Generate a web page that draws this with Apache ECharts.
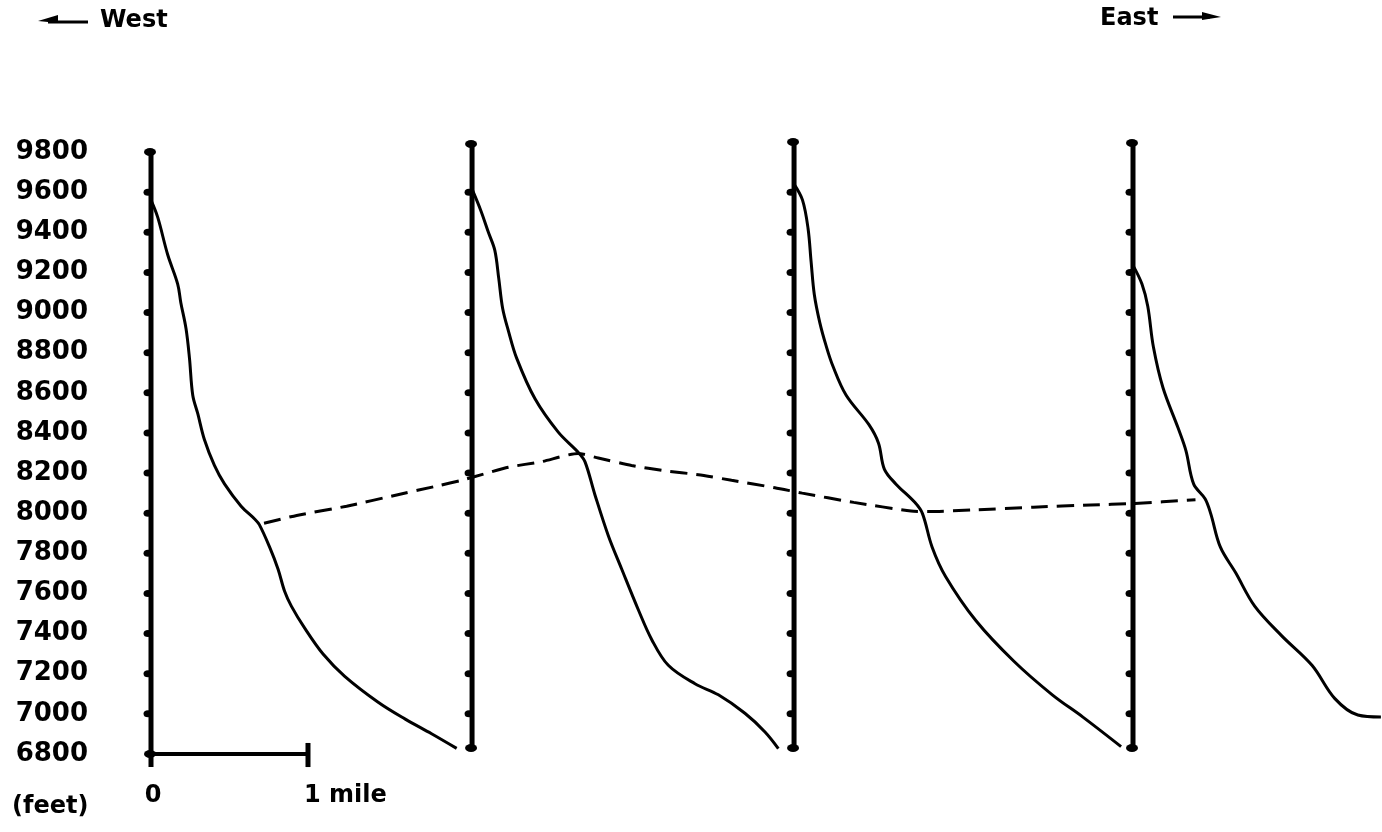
<!DOCTYPE html>
<html>
<head>
<meta charset="utf-8">
<script src="https://cdn.jsdelivr.net/npm/echarts@6/dist/echarts.min.js"></script>
<style>
html,body{margin:0;padding:0;background:#fff;}
#chart{width:1382px;height:832px;}
</style>
</head>
<body>
<div id="chart"></div>
<script>
// ---- data (miles east from the first profile, elevation in feet) ----
const yTicks = [6800, 7000, 7200, 7400, 7600, 7800, 8000, 8200, 8400, 8600, 8800, 9000, 9200, 9400, 9600, 9800];
const axisPositions = [0, 2.045, 4.096, 6.255];
const axisTops = [9800, 9840, 9850, 9845];
const axisBottoms = [6735, 6830, 6830, 6830];

const profile1 = [[0,9560],[0.043,9474],[0.106,9289],[0.17,9142],[0.19,9049],[0.223,8920],[0.245,8773],[0.266,8588],[0.298,8496],[0.34,8367],[0.404,8238],[0.468,8146],[0.574,8035],[0.66,7971],[0.69,7943],[0.755,7832],[0.809,7722],[0.851,7611],[0.894,7537],[0.979,7427],[1.096,7298],[1.234,7187],[1.447,7058],[1.617,6975],[1.787,6901],[1.947,6828]];
const profile2 = [[2.045,9615],[2.1,9510],[2.149,9400],[2.19,9310],[2.215,9170],[2.24,9020],[2.276,8910],[2.329,8773],[2.446,8570],[2.594,8404],[2.722,8303],[2.764,8257],[2.828,8091],[2.913,7888],[2.998,7722],[3.104,7519],[3.189,7371],[3.295,7242],[3.465,7150],[3.614,7095],[3.783,7003],[3.911,6910],[3.996,6827]];
const profile3 = [[4.096,9640],[4.15,9560],[4.185,9420],[4.205,9250],[4.225,9090],[4.26,8950],[4.3,8835],[4.342,8736],[4.427,8589],[4.573,8441],[4.634,8349],[4.671,8220],[4.744,8146],[4.865,8054],[4.914,7998],[4.975,7832],[5.061,7685],[5.255,7464],[5.498,7261],[5.741,7095],[5.936,6984],[6.179,6837]];
const profile4 = [[6.255,9235],[6.312,9142],[6.349,9031],[6.385,8828],[6.446,8625],[6.543,8423],[6.592,8312],[6.641,8146],[6.714,8072],[6.75,7998],[6.811,7832],[6.909,7703],[7.03,7537],[7.201,7390],[7.395,7242],[7.541,7076],[7.687,6994],[7.834,6984]];
const dashedTrend = [[0.72,7950],[0.928,7989],[1.246,8035],[1.565,8091],[1.83,8137],[1.979,8164],[2.106,8192],[2.276,8229],[2.488,8257],[2.72,8298],[2.849,8275],[3.061,8238],[3.274,8211],[3.486,8192],[3.698,8164],[3.974,8127],[4.148,8100],[4.476,8054],[4.841,8011],[4.963,8008],[5.255,8017],[5.62,8030],[5.985,8041],[6.25,8048],[6.653,8067]];
const scaleBar = [[0, 6800], [1, 6800]];
const scaleEnd = [[1, 6735], [1, 6855]];
const scaleLabels = ['0', '1 mile'];
const directionLabels = ['West', 'East'];
const unitLabel = '(feet)';

// ---- build ----
const FONT = 'DejaVu Sans';
const ink = '#000';
const series = [];

axisPositions.forEach((x, i) => {
  series.push({
    type: 'line', data: [[x, axisBottoms[i]], [x, axisTops[i]]],
    symbol: 'none', lineStyle: {color: ink, width: 5}, clip: false, silent: true, z: 3
  });
});

const tickPts = [];
axisPositions.forEach((x, i) => {
  yTicks.forEach(v => { if (v > 6800 && v < axisTops[i] - 60) tickPts.push([x, v]); });
});
series.push({
  type: 'scatter', data: tickPts, symbol: 'circle', symbolSize: [9, 7], symbolOffset: [-3, 0],
  itemStyle: {color: ink, opacity: 1}, clip: false, silent: true, z: 4
});
const endPts = [];
axisPositions.forEach((x, i) => { endPts.push([x, axisTops[i]]); endPts.push([x, i > 0 ? axisBottoms[i] : 6800]); });
series.push({
  type: 'scatter', data: endPts, symbol: 'circle', symbolSize: [12, 8], symbolOffset: [-1, 0],
  itemStyle: {color: ink, opacity: 1}, clip: false, silent: true, z: 4
});

[profile1, profile2, profile3, profile4].forEach(p => {
  series.push({
    type: 'line', data: p, symbol: 'none', smooth: 0.35,
    lineStyle: {color: ink, width: 3}, clip: false, silent: true, z: 2
  });
});

series.push({
  type: 'line', data: dashedTrend, symbol: 'none', smooth: 0.2,
  lineStyle: {color: ink, width: 3, type: [17, 9]}, clip: false, silent: true, z: 2
});

series.push({
  type: 'line', data: scaleBar, symbol: 'none',
  lineStyle: {color: ink, width: 4}, clip: false, silent: true, z: 3
});
series.push({
  type: 'line', data: scaleEnd, symbol: 'none',
  lineStyle: {color: ink, width: 5}, clip: false, silent: true, z: 3
});
series.push({
  type: 'scatter', data: scaleBar.map((d, i) => ({value: d, name: scaleLabels[i],
    label: {align: i === 0 ? 'center' : 'left', offset: i === 0 ? [2, 0] : [-4, 0], color: ink}})),
  symbolSize: 0, clip: false, silent: true,
  itemStyle: {opacity: 1},
  label: {show: true, position: 'bottom', distance: 30, formatter: '{b}',
    fontFamily: FONT, fontWeight: 'bold', fontSize: 24, color: ink}
});

const option = {
  animation: false,
  backgroundColor: '#fff',
  grid: {left: 151, right: 0, top: 152, bottom: 78},
  xAxis: {type: 'value', min: 0, max: 7.841, show: false},
  yAxis: {
    type: 'value', min: yTicks[0], max: yTicks[yTicks.length - 1], interval: 200,
    axisLine: {show: false}, axisTick: {show: false}, splitLine: {show: false},
    axisLabel: {margin: 63, fontFamily: FONT, fontWeight: 'bold', fontSize: 26, color: ink,
      formatter: v => yTicks.includes(v) ? String(v) : ''}
  },
  graphic: [
    {type: 'text', left: 12, top: 795, style: {text: unitLabel, fontFamily: FONT, fontWeight: 'bold', fontSize: 24, fill: ink}},
    {type: 'text', left: 100, top: 9, style: {text: directionLabels[0], fontFamily: FONT, fontWeight: 'bold', fontSize: 24, fill: ink}},
    {type: 'text', left: 1100, top: 7, style: {text: directionLabels[1], fontFamily: FONT, fontWeight: 'bold', fontSize: 24, fill: ink}},
    {type: 'line', shape: {x1: 48, y1: 22, x2: 88, y2: 22}, style: {stroke: ink, lineWidth: 3}},
    {type: 'polygon', shape: {points: [[38, 21], [58, 15], [58, 23]]}, style: {fill: ink}},
    {type: 'line', shape: {x1: 1173, y1: 17, x2: 1210, y2: 17}, style: {stroke: ink, lineWidth: 3}},
    {type: 'polygon', shape: {points: [[1221, 17], [1202, 12], [1202, 20]]}, style: {fill: ink}}
  ],
  series: series
};

const chart = echarts.init(document.getElementById('chart'), null, {renderer: 'canvas'});
chart.setOption(option);
</script>
</body>
</html>
